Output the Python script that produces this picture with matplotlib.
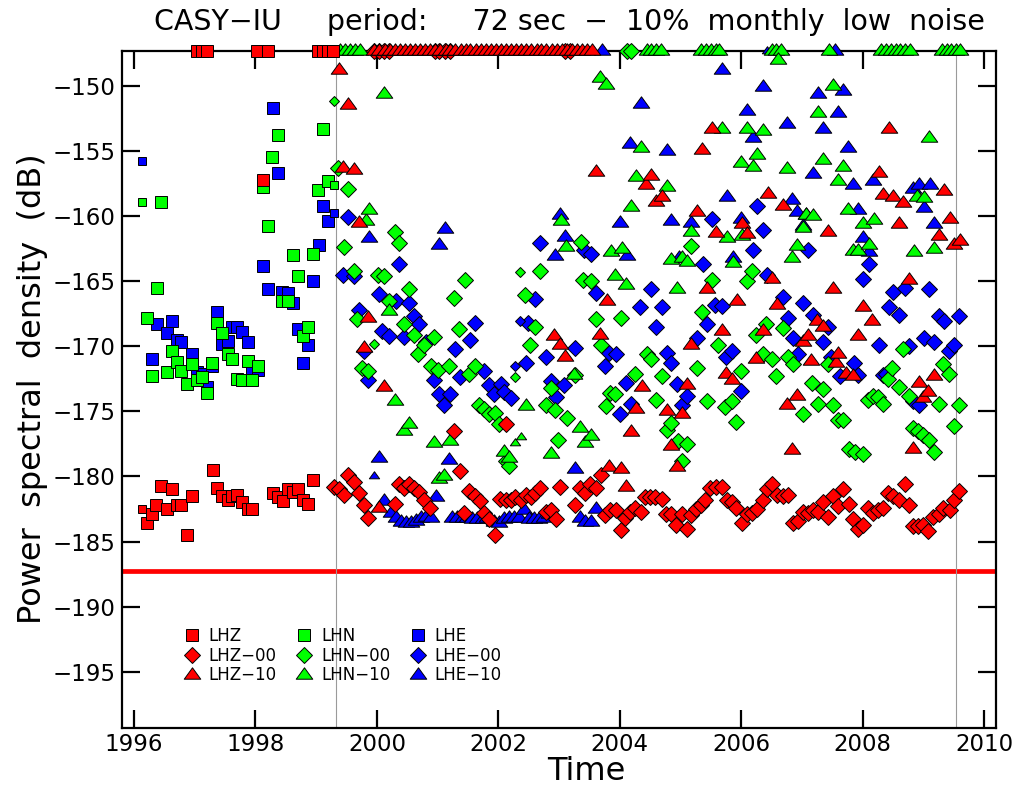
import numpy as np
import matplotlib
matplotlib.use("Agg")
import matplotlib.pyplot as plt
from matplotlib.path import Path
from matplotlib.lines import Line2D

plt.rcParams['font.family'] = ['DejaVu Sans']

# Monthly 10% low-noise level at 72 s, (decimal year, dB).
# Values above the plotted range are pinned to the top axis.
LHZ = [(1996.21, -183.6), (1996.29, -182.9), (1996.37, -182.2), (1996.45, -180.7),
       (1996.54, -182.5), (1996.62, -181.0), (1996.70, -182.2), (1996.78, -182.2),
       (1996.87, -184.5), (1996.95, -181.5), (1997.03, -146.0), (1997.12, -146.0),
       (1997.20, -146.0), (1997.30, -179.5), (1997.37, -180.9), (1997.45, -181.5),
       (1997.54, -181.8), (1997.62, -181.5), (1997.70, -181.4), (1997.78, -182.0),
       (1997.87, -182.5), (1997.95, -182.5), (1998.03, -146.0), (1998.12, -157.2),
       (1998.20, -146.0), (1998.29, -181.3), (1998.37, -181.6), (1998.45, -181.9),
       (1998.53, -181.0), (1998.62, -181.2), (1998.70, -181.0), (1998.78, -181.8),
       (1998.86, -182.1), (1998.94, -180.3), (1999.03, -146.0), (1999.12, -146.0),
       (1999.20, -146.0), (1999.28, -146.0)]
LHZ_SMALL = [(1996.13, -182.5)]

LHN = [(1996.21, -167.8), (1996.29, -172.3), (1996.38, -165.5), (1996.45, -158.9),
       (1996.54, -172.0), (1996.62, -170.4), (1996.70, -171.2), (1996.78, -171.9),
       (1996.87, -172.9), (1996.95, -171.4), (1997.03, -172.6), (1997.12, -172.4),
       (1997.20, -173.6), (1997.29, -171.3), (1997.37, -168.2), (1997.45, -169.0),
       (1997.54, -170.6), (1997.62, -171.0), (1997.70, -172.5), (1997.78, -172.6),
       (1997.87, -171.1), (1997.95, -172.6), (1998.04, -171.5), (1998.12, -157.8),
       (1998.20, -160.8), (1998.28, -155.5), (1998.37, -153.8), (1998.44, -166.5),
       (1998.53, -166.5), (1998.62, -163.0), (1998.70, -164.6), (1998.79, -169.2),
       (1998.87, -168.5), (1998.94, -162.9), (1999.03, -158.0), (1999.12, -153.3),
       (1999.19, -157.3)]
LHN_SMALL = [(1996.13, -158.9), (1999.29, -157.6)]

LHE = [(1996.29, -171.0), (1996.38, -168.3), (1996.54, -169.0), (1996.62, -168.1),
       (1996.70, -169.5), (1996.78, -169.7), (1996.95, -170.6), (1997.03, -172.0),
       (1997.12, -172.1), (1997.20, -173.1), (1997.29, -171.5), (1997.37, -167.4),
       (1997.45, -169.8), (1997.54, -169.6), (1997.62, -168.5), (1997.70, -168.5),
       (1997.78, -168.9), (1997.87, -169.7), (1997.95, -171.8), (1998.04, -171.8),
       (1998.12, -163.8), (1998.20, -165.6), (1998.29, -151.7), (1998.37, -156.7),
       (1998.44, -165.8), (1998.53, -165.9), (1998.62, -166.7), (1998.70, -168.7),
       (1998.79, -171.3), (1998.87, -169.9), (1998.94, -165.0), (1999.04, -162.2),
       (1999.12, -159.2), (1999.20, -160.4)]
LHE_SMALL = [(1996.13, -155.8), (1999.29, -159.8)]

LHZ_00 = [(1999.30, -180.8), (1999.38, -181.0), (1999.46, -181.4), (1999.53, -179.9),
          (1999.62, -180.4), (1999.70, -181.3), (1999.78, -182.2), (1999.86, -183.2),
          (1999.96, -146.0), (2000.04, -146.0), (2000.12, -146.0), (2000.20, -146.0),
          (2000.29, -182.1), (2000.37, -180.6), (2000.45, -180.9), (2000.53, -180.6),
          (2000.61, -180.9), (2000.70, -181.2), (2000.78, -181.8), (2000.87, -182.4),
          (2000.95, -146.0), (2001.03, -146.0), (2001.12, -146.0), (2001.20, -146.0),
          (2001.27, -176.5), (2001.37, -179.6), (2001.43, -182.8), (2001.52, -181.1),
          (2001.61, -181.5), (2001.69, -181.9), (2001.76, -182.8), (2001.85, -183.3),
          (2001.94, -184.5), (2002.02, -181.7), (2002.12, -181.8), (2002.12, -176.0),
          (2002.20, -181.8), (2002.28, -181.6), (2002.37, -181.8), (2002.45, -181.4),
          (2002.53, -181.6), (2002.61, -181.3), (2002.69, -180.9), (2002.78, -182.7),
          (2002.86, -182.6), (2002.95, -183.3), (2003.02, -180.8), (2003.10, -146.0),
          (2003.18, -146.0), (2003.27, -182.2), (2003.34, -180.9), (2003.43, -181.3),
          (2003.51, -180.6), (2003.61, -180.9), (2003.69, -179.9), (2003.76, -183.0),
          (2003.84, -182.6), (2003.93, -182.6), (2004.02, -184.1), (2004.09, -183.2),
          (2004.17, -182.7), (2004.25, -182.4), (2004.35, -182.7), (2004.42, -181.6),
          (2004.50, -181.6), (2004.58, -181.6), (2004.69, -181.7), (2004.76, -182.9),
          (2004.84, -182.9), (2004.93, -183.7), (2005.02, -182.9), (2005.10, -184.0),
          (2005.18, -183.0), (2005.25, -182.5), (2005.33, -182.2), (2005.41, -181.8),
          (2005.48, -180.9), (2005.58, -180.8), (2005.68, -180.8), (2005.76, -181.8),
          (2005.84, -182.0), (2005.92, -182.4), (2006.02, -183.6), (2006.10, -182.9),
          (2006.18, -182.8), (2006.26, -182.5), (2006.35, -181.8), (2006.43, -181.0),
          (2006.51, -180.6), (2006.59, -181.4), (2006.68, -181.5), (2006.77, -181.4),
          (2006.85, -183.6), (2006.94, -183.4), (2007.02, -182.7), (2007.10, -182.8),
          (2007.18, -182.6), (2007.26, -182.7), (2007.35, -182.0), (2007.43, -183.1),
          (2007.51, -181.5), (2007.59, -182.3), (2007.68, -181.0), (2007.77, -182.1),
          (2007.84, -183.3), (2007.92, -184.0), (2008.01, -183.7), (2008.08, -182.4),
          (2008.17, -182.8), (2008.25, -182.6), (2008.33, -182.4), (2008.41, -181.3),
          (2008.50, -181.5), (2008.59, -181.8), (2008.69, -180.6), (2008.77, -182.2),
          (2008.83, -183.8), (2008.91, -183.8), (2008.99, -183.7), (2009.07, -184.2),
          (2009.15, -183.1), (2009.25, -182.9), (2009.33, -182.4), (2009.43, -182.6),
          (2009.51, -181.8), (2009.59, -181.1)]

LHN_00 = [(1999.36, -156.3), (1999.45, -162.4), (1999.53, -157.9), (1999.62, -164.2),
          (1999.68, -167.9), (1999.76, -171.7), (1999.85, -171.9), (2000.01, -164.5),
          (2000.11, -164.6), (2000.20, -166.5), (2000.29, -161.2), (2000.37, -162.1),
          (2000.45, -168.3), (2000.53, -165.6), (2000.61, -169.1), (2000.68, -170.6),
          (2000.78, -169.9), (2000.89, -171.5), (2000.94, -169.3), (2001.01, -171.8),
          (2001.19, -171.5), (2001.27, -166.3), (2001.35, -168.7), (2001.45, -164.9),
          (2001.52, -172.1), (2001.62, -171.5), (2001.68, -174.5), (2001.76, -174.8),
          (2001.85, -175.2), (2001.95, -175.1), (2002.01, -176.0), (2002.12, -178.8),
          (2002.17, -179.2), (2002.44, -166.1), (2002.52, -169.9), (2002.61, -168.5),
          (2002.69, -164.2), (2002.78, -174.5), (2002.86, -173.2), (2002.94, -174.9),
          (2002.99, -177.2), (2003.13, -175.5), (2003.27, -172.2), (2003.36, -162.0),
          (2003.40, -164.9), (2003.53, -165.0), (2003.61, -167.9), (2003.69, -169.9),
          (2003.77, -174.6), (2003.84, -173.6), (2003.92, -173.7), (2004.02, -167.8),
          (2004.12, -146.0), (2004.19, -146.0), (2004.25, -172.1), (2004.45, -170.6),
          (2004.51, -171.0), (2004.60, -174.1), (2004.69, -172.3), (2004.77, -176.4),
          (2004.85, -175.9), (2004.95, -177.3), (2005.02, -178.8), (2005.10, -177.5),
          (2005.18, -162.3), (2005.27, -171.7), (2005.35, -167.4), (2005.43, -174.2),
          (2005.51, -164.9), (2005.61, -169.9), (2005.73, -174.7), (2005.84, -174.2),
          (2005.92, -175.8), (2006.00, -171.9), (2006.10, -165.0), (2006.18, -164.2),
          (2006.25, -169.1), (2006.35, -170.6), (2006.41, -168.3), (2006.50, -171.0),
          (2006.58, -172.3), (2006.69, -168.6), (2006.77, -170.8), (2006.85, -171.4),
          (2007.02, -175.2), (2007.17, -172.8), (2007.26, -174.4), (2007.35, -173.3),
          (2007.43, -171.4), (2007.51, -174.5), (2007.59, -175.7), (2007.67, -175.7),
          (2007.77, -177.9), (2007.87, -178.1), (2008.00, -178.3), (2008.08, -174.1),
          (2008.17, -173.8), (2008.25, -173.9), (2008.33, -174.4), (2008.41, -172.5),
          (2008.49, -171.7), (2008.59, -173.1), (2008.67, -170.2), (2008.76, -173.8),
          (2008.82, -176.3), (2008.91, -176.5), (2008.99, -176.8), (2009.09, -177.2),
          (2009.18, -178.1), (2009.25, -174.4), (2009.33, -171.4), (2009.42, -172.1),
          (2009.51, -176.1), (2009.59, -174.5)]
LHN_00_SMALL = [(1999.29, -151.2), (1999.95, -169.8), (2002.28, -172.4), (2002.35, -164.3)]

LHE_00 = [(1999.44, -164.5), (1999.53, -160.1), (1999.62, -164.6), (1999.71, -167.2),
          (1999.78, -170.4), (1999.85, -172.6), (2000.04, -166.0), (2000.09, -168.8),
          (2000.20, -169.2), (2000.31, -166.5), (2000.37, -163.7), (2000.45, -169.3),
          (2000.53, -166.7), (2000.61, -167.7), (2000.70, -168.3), (2000.81, -169.7),
          (2000.94, -172.6), (2001.02, -173.7), (2001.11, -174.5), (2001.20, -173.7),
          (2001.28, -170.2), (2001.36, -172.4), (2001.53, -169.5), (2001.61, -168.2),
          (2001.76, -171.9), (2001.85, -173.0), (2001.93, -173.7), (2002.04, -172.9),
          (2002.09, -173.5), (2002.20, -174.0), (2002.45, -171.3), (2002.49, -168.2),
          (2002.61, -166.4), (2002.69, -162.1), (2002.78, -170.8), (2002.86, -172.7),
          (2002.95, -173.9), (2003.08, -173.0), (2003.27, -170.1), (2003.41, -162.6),
          (2003.53, -162.9), (2003.61, -165.9), (2003.76, -171.5), (2003.83, -170.5),
          (2003.94, -170.6), (2004.01, -175.2), (2004.10, -172.8), (2004.18, -174.4),
          (2004.33, -167.0), (2004.51, -165.6), (2004.60, -168.5), (2004.69, -167.0),
          (2004.77, -170.5), (2004.85, -171.3), (2004.94, -172.9), (2005.02, -174.5),
          (2005.10, -173.8), (2005.27, -169.4), (2005.37, -163.7), (2005.44, -168.3),
          (2005.51, -160.2), (2005.57, -166.8), (2005.69, -166.9), (2005.75, -170.8),
          (2005.84, -170.4), (2006.00, -173.4), (2006.19, -162.6), (2006.26, -159.2),
          (2006.35, -161.1), (2006.42, -164.5), (2006.69, -166.2), (2006.77, -167.8),
          (2006.85, -169.4), (2006.93, -170.6), (2007.01, -166.7), (2007.10, -162.6),
          (2007.18, -167.6), (2007.35, -169.7), (2007.43, -168.5), (2007.48, -170.8),
          (2007.62, -172.3), (2007.85, -171.3), (2007.92, -172.2), (2008.00, -164.8),
          (2008.10, -163.7), (2008.27, -169.9), (2008.33, -172.2), (2008.39, -172.1),
          (2008.43, -167.0), (2008.50, -165.8), (2008.59, -167.6), (2008.69, -165.5),
          (2008.77, -170.0), (2008.82, -174.2), (2008.93, -174.5), (2009.01, -169.4),
          (2009.09, -165.6), (2009.18, -169.7), (2009.25, -167.7), (2009.34, -168.1),
          (2009.42, -170.4), (2009.51, -169.9), (2009.59, -167.7)]
LHE_00_SMALL = [(2002.27, -171.5), (2002.35, -168.1)]

LHZ_10 = [(1999.37, -148.8), (1999.44, -156.3), (1999.53, -151.5), (1999.62, -156.5),
          (1999.70, -160.5), (1999.78, -170.1), (1999.86, -167.8),
          (1999.96, -146.0), (2000.04, -146.0), (2000.13, -146.0), (2000.21, -146.0),
          (2000.29, -146.0), (2000.38, -146.0), (2000.46, -146.0), (2000.54, -146.0),
          (2000.63, -146.0), (2000.71, -146.0), (2000.79, -146.0), (2000.88, -146.0),
          (2000.96, -146.0), (2001.04, -146.0), (2001.13, -146.0), (2001.21, -146.0),
          (2001.29, -146.0), (2001.38, -146.0), (2001.46, -146.0), (2001.54, -146.0),
          (2001.63, -146.0), (2001.71, -146.0), (2001.79, -146.0), (2001.88, -146.0),
          (2001.96, -146.0), (2002.04, -146.0), (2002.13, -146.0), (2002.21, -146.0),
          (2002.29, -146.0), (2002.38, -146.0), (2002.46, -146.0), (2002.54, -146.0),
          (2002.63, -146.0), (2002.71, -146.0), (2002.79, -146.0), (2002.88, -146.0),
          (2002.96, -146.0), (2003.04, -146.0), (2003.13, -146.0), (2003.21, -146.0),
          (2003.29, -146.0), (2003.38, -146.0), (2003.46, -146.0), (2003.54, -146.0),
          (2000.04, -182.4), (2000.12, -173.1), (2002.91, -169.2), (2003.02, -169.9),
          (2003.10, -170.8), (2003.61, -156.6), (2003.68, -169.1), (2003.79, -166.5),
          (2003.83, -179.3), (2004.02, -179.4), (2004.10, -180.8), (2004.18, -176.6),
          (2004.27, -174.8), (2004.36, -173.1), (2004.43, -157.6), (2004.51, -156.9),
          (2004.60, -158.9), (2004.69, -158.5), (2004.77, -175.0), (2004.85, -177.7),
          (2004.94, -179.3), (2005.03, -175.2), (2005.10, -173.0), (2005.18, -169.9),
          (2005.27, -159.7), (2005.35, -154.9), (2005.43, -165.6), (2005.51, -153.3),
          (2005.59, -161.3), (2005.68, -168.8), (2005.75, -172.1), (2005.84, -172.6),
          (2005.93, -166.5), (2006.02, -160.6), (2006.10, -161.4), (2006.25, -171.0),
          (2006.36, -168.8), (2006.44, -158.3), (2006.51, -164.8), (2006.59, -166.8),
          (2006.68, -159.2), (2006.76, -174.5), (2006.84, -178.0), (2006.92, -173.8),
          (2007.02, -169.7), (2007.10, -169.2), (2007.15, -171.1), (2007.24, -168.1),
          (2007.35, -168.5), (2007.43, -161.2), (2007.51, -165.6), (2007.56, -171.3),
          (2007.59, -170.6), (2007.73, -172.1), (2007.84, -172.3), (2007.92, -169.2),
          (2008.00, -167.0), (2008.15, -168.1), (2008.27, -156.7), (2008.33, -158.4),
          (2008.43, -153.3), (2008.50, -158.5), (2008.59, -160.6), (2008.67, -159.0),
          (2008.76, -164.9), (2008.83, -177.9), (2008.92, -172.8), (2008.99, -174.0),
          (2009.08, -173.5), (2009.17, -172.3), (2009.25, -161.5), (2009.34, -158.1),
          (2009.43, -160.2), (2009.51, -162.2), (2009.60, -161.9)]

LHN_10 = [(1999.40, -146.0), (1999.48, -146.0), (1999.56, -146.0), (1999.64, -146.0),
          (1999.72, -146.0), (1999.82, -160.4), (1999.87, -159.5), (2000.12, -150.6),
          (2000.20, -167.3), (2000.29, -174.2), (2000.45, -176.5), (2000.53, -176.0),
          (2000.94, -177.4), (2001.02, -180.2), (2001.11, -180.0), (2001.20, -177.3),
          (2002.09, -178.1), (2002.17, -178.6), (2002.45, -174.6), (2002.86, -178.3),
          (2003.03, -160.4), (2003.12, -162.4), (2003.24, -172.2), (2003.35, -176.3),
          (2003.43, -177.4), (2003.53, -176.9), (2003.68, -149.4), (2003.78, -149.9),
          (2003.85, -162.8), (2003.92, -164.6), (2004.03, -162.5), (2004.10, -165.3),
          (2004.18, -159.3), (2004.27, -157.0), (2004.35, -154.8), (2004.44, -146.0),
          (2004.52, -146.0), (2004.60, -146.0), (2004.68, -146.0), (2004.77, -157.8),
          (2004.84, -163.4), (2004.94, -165.6), (2005.02, -163.2), (2005.10, -163.5),
          (2005.18, -161.2), (2005.34, -146.0), (2005.42, -146.0), (2005.50, -146.0),
          (2005.58, -146.0), (2005.64, -146.0), (2005.69, -153.3), (2005.77, -161.7),
          (2005.86, -163.6), (2006.00, -155.9), (2006.02, -161.5), (2006.09, -153.3),
          (2006.19, -156.2), (2006.26, -155.3), (2006.36, -153.5), (2006.50, -146.0),
          (2006.58, -146.0), (2006.66, -146.0), (2006.60, -148.0), (2006.76, -156.4),
          (2006.84, -163.2), (2006.92, -162.3), (2007.01, -160.9), (2007.06, -159.9),
          (2007.18, -160.0), (2007.26, -152.1), (2007.35, -155.7), (2007.44, -146.0),
          (2007.51, -150.0), (2007.59, -157.3), (2007.68, -156.2), (2007.76, -159.5),
          (2007.84, -162.7), (2007.92, -162.7), (2008.00, -160.6), (2008.10, -162.2),
          (2008.18, -160.3), (2008.30, -146.0), (2008.38, -146.0), (2008.46, -146.0),
          (2008.54, -146.0), (2008.62, -146.0), (2008.70, -146.0), (2008.78, -146.0),
          (2008.84, -162.8), (2008.89, -158.5), (2009.01, -158.6), (2009.09, -154.0),
          (2009.18, -162.5), (2009.30, -146.0), (2009.38, -146.0), (2009.46, -146.0),
          (2009.54, -146.0), (2009.61, -146.0)]
LHN_10_SMALL = [(2002.28, -177.4), (2002.37, -177.0)]

LHE_10 = [(1999.87, -161.7), (2000.04, -178.6), (2000.12, -181.9), (2000.23, -182.8),
          (2000.31, -183.2), (2000.40, -183.5), (2000.48, -183.6), (2000.56, -183.6),
          (2000.64, -183.4), (2000.72, -183.2), (2000.81, -183.1), (2000.89, -183.2),
          (2000.97, -181.6), (2001.02, -162.2), (2001.12, -161.0), (2001.19, -178.7),
          (2001.24, -183.2), (2001.32, -183.2), (2001.41, -183.2), (2001.49, -183.2),
          (2001.57, -183.3), (2001.65, -183.3), (2001.74, -183.3), (2001.82, -183.2),
          (2001.93, -183.5), (2002.01, -183.6), (2002.09, -183.3), (2002.17, -183.2),
          (2002.26, -183.2), (2002.34, -183.2), (2002.42, -182.6), (2002.50, -183.3),
          (2002.58, -183.3), (2002.67, -183.3), (2002.75, -183.2), (2002.83, -182.9),
          (2002.94, -163.1), (2003.01, -159.9), (2003.10, -161.6), (2003.27, -179.4),
          (2003.35, -183.2), (2003.43, -183.5), (2003.52, -183.5), (2003.60, -182.5),
          (2003.71, -146.0), (2004.01, -160.5), (2004.12, -163.1), (2004.16, -154.5),
          (2004.35, -151.4), (2004.77, -155.0), (2004.85, -160.4), (2004.97, -163.2),
          (2005.18, -160.5), (2005.68, -148.8), (2005.76, -158.5), (2005.86, -163.2),
          (2006.00, -160.2), (2006.09, -151.9), (2006.19, -154.0), (2006.35, -150.1),
          (2006.76, -152.9), (2006.84, -158.8), (2006.92, -159.7), (2007.01, -160.8),
          (2007.07, -159.9), (2007.18, -156.8), (2007.26, -150.6), (2007.35, -153.3),
          (2007.54, -146.0), (2007.59, -152.1), (2007.68, -150.4), (2007.76, -154.8),
          (2007.84, -157.6), (2007.92, -159.5), (2008.00, -161.7), (2008.10, -162.8),
          (2008.17, -157.3), (2008.83, -157.9), (2008.92, -157.6), (2009.01, -159.4),
          (2009.10, -157.6), (2009.18, -160.6)]
LHE_10_SMALL = [(1999.95, -180.0), (2006.42, -146.0)]

# axis ranges and reference lines
T_RANGE = (1995.807, 2010.19)
DB_RANGE = (-199.3, -147.3)
NLNM_LEVEL = -187.3            # low-noise-model reference at 72 s
EPOCH_MARKS = [1999.32, 2009.53]

RED, GREEN, BLUE = '#ff0000', '#00ff00', '#0000ff'

# flat IDL-style triangle symbol
TRI = Path([(-1, -0.45), (1, -0.45), (0, 0.93), (-1, -0.45)],
           [Path.MOVETO, Path.LINETO, Path.LINETO, Path.CLOSEPOLY])
SHAPES = {'sq': ('s', 8.6, 5.8), 'di': ('D', 7.9, 5.0), 'tr': (TRI, 11.9, 7.4)}

fig = plt.figure(figsize=(10.21, 7.86), dpi=100)
W, H = 1021, 786
ax = fig.add_axes([122.3 / W, 1 - 727.7 / H, (995.7 - 122.3) / W, (727.7 - 50.7) / H])
ax.set_xlim(*T_RANGE)
ax.set_ylim(*DB_RANGE)

ax.axhline(NLNM_LEVEL, color=RED, lw=3.4, zorder=1)
for t in EPOCH_MARKS:
    ax.axvline(t, color='#9a9a9a', lw=0.8, zorder=1)


def draw(points, color, shape, small=False, z=3):
    if not points:
        return
    a = np.asarray(points, dtype=float)
    marker, ms, ms_small = SHAPES[shape]
    ax.plot(a[:, 0], np.minimum(a[:, 1], DB_RANGE[1]), ls='none', marker=marker,
            ms=ms_small if small else ms, mfc=color, mec='black', mew=0.7,
            clip_on=False, zorder=z)


series = [
    ('LHZ', LHZ, LHZ_SMALL, RED, 'sq'),
    ('LHZ−00', LHZ_00, [], RED, 'di'),
    ('LHZ−10', LHZ_10, [], RED, 'tr'),
    ('LHN', LHN, LHN_SMALL, GREEN, 'sq'),
    ('LHN−00', LHN_00, LHN_00_SMALL, GREEN, 'di'),
    ('LHN−10', LHN_10, LHN_10_SMALL, GREEN, 'tr'),
    ('LHE', LHE, LHE_SMALL, BLUE, 'sq'),
    ('LHE−00', LHE_00, LHE_00_SMALL, BLUE, 'di'),
    ('LHE−10', LHE_10, LHE_10_SMALL, BLUE, 'tr'),
]

# blue first, red last; within a colour squares, diamonds, triangles
color_rank = {BLUE: 0, GREEN: 1, RED: 2}
shape_rank = {'sq': 0, 'di': 1, 'tr': 2}
for name, pts, small, color, shape in sorted(series, key=lambda s: (color_rank[s[3]], shape_rank[s[4]])):
    z = 3 + color_rank[color] * 0.3 + shape_rank[shape] * 0.1
    draw(pts, color, shape, False, z)
    draw(small, color, shape, True, z)

handles = [Line2D([], [], ls='none', marker=SHAPES[s][0], ms=SHAPES[s][1], mfc=c,
                  mec='black', mew=0.7, label=n) for n, _, _, c, s in series]
ax.legend(handles=handles, ncol=3, frameon=False, fontsize=12, loc='upper left',
          bbox_to_anchor=((183.7 - 122.3) / 873.4, 1 - (627 - 50.7) / 677.0),
          borderaxespad=0, borderpad=0, handlelength=1.0, handletextpad=0.5,
          columnspacing=1.15, labelspacing=0.1)

ax.set_xticks(np.arange(1996, 2011, 2))
ax.set_yticks(np.arange(-195, -149, 5))
ax.tick_params(direction='in', length=12.7, width=1.6, labelsize=16.5,
               top=True, right=True, colors='black')
ax.tick_params(axis='x', pad=4)
ax.tick_params(axis='y', pad=5)
for sp in ax.spines.values():
    sp.set_linewidth(1.6)

fig.text(569 / W, 1 - 22 / H, 'CASY−IU     period:     72 sec  −  10%  monthly  low  noise',
         ha='center', va='center', fontsize=20.5)
fig.text(586 / W, 1 - 771 / H, 'Time', ha='center', va='center', fontsize=23)
fig.text(33 / W, 1 - 389 / H, 'Power  spectral  density  (dB)', ha='center', va='center',
         rotation=90, fontsize=23)

fig.savefig('out.png', dpi=100)
